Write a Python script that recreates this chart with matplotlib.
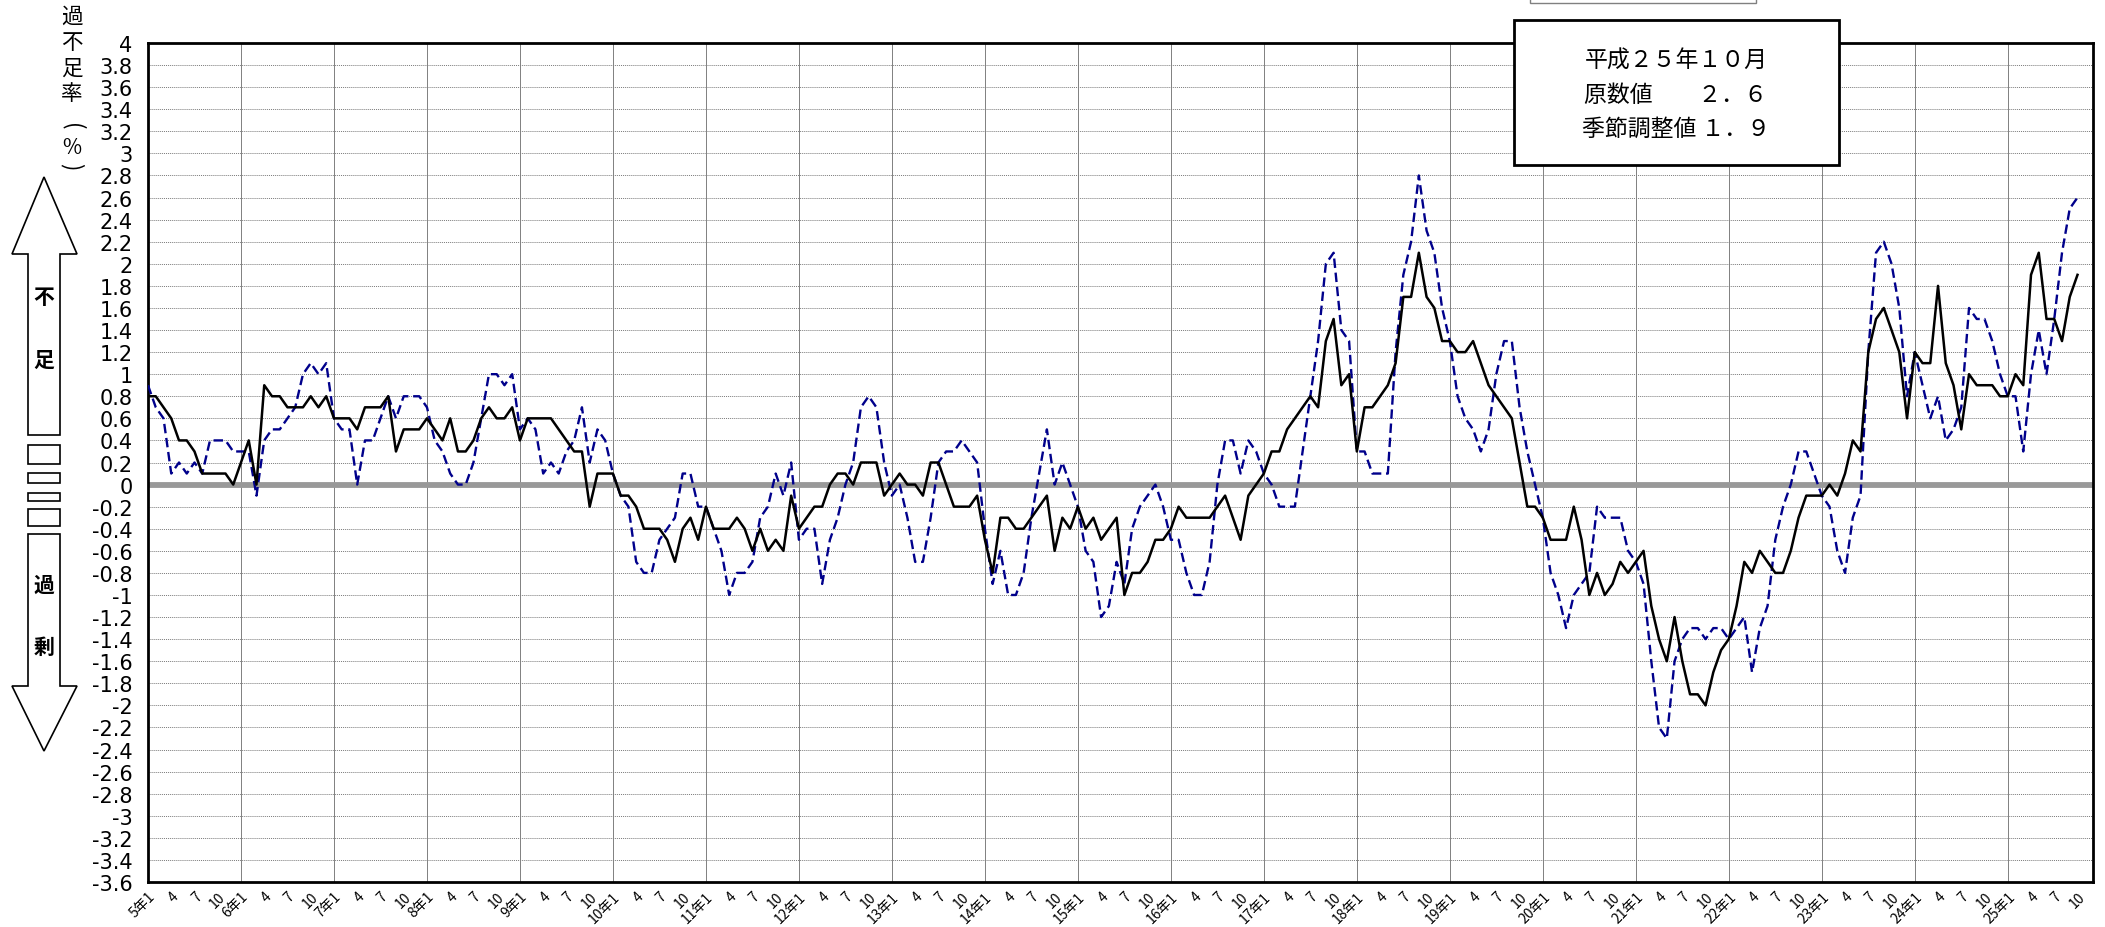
import matplotlib
matplotlib.use('Agg')
import matplotlib.pyplot as plt
import numpy as np
from matplotlib.patches import Polygon, Rectangle

plt.rcParams['font.family'] = ['Noto Sans CJK JP', 'DejaVu Sans']
plt.rcParams['axes.unicode_minus'] = False

# 平成5年1月 ～ 平成25年10月 (月次)
start_year = 5
# 季節調整値 (実線)
sa = [
    0.8, 0.8, 0.7, 0.6, 0.4, 0.4, 0.3, 0.1, 0.1, 0.1, 0.1, 0.0,
    0.2, 0.4, 0.0, 0.9, 0.8, 0.8, 0.7, 0.7, 0.7, 0.8, 0.7, 0.8,
    0.6, 0.6, 0.6, 0.5, 0.7, 0.7, 0.7, 0.8, 0.3, 0.5, 0.5, 0.5,
    0.6, 0.5, 0.4, 0.6, 0.3, 0.3, 0.4, 0.6, 0.7, 0.6, 0.6, 0.7,
    0.4, 0.6, 0.6, 0.6, 0.6, 0.5, 0.4, 0.3, 0.3, -0.2, 0.1, 0.1,
    0.1, -0.1, -0.1, -0.2, -0.4, -0.4, -0.4, -0.5, -0.7, -0.4, -0.3, -0.5,
    -0.2, -0.4, -0.4, -0.4, -0.3, -0.4, -0.6, -0.4, -0.6, -0.5, -0.6, -0.1,
    -0.4, -0.3, -0.2, -0.2, 0.0, 0.1, 0.1, 0.0, 0.2, 0.2, 0.2, -0.1,
    0.0, 0.1, 0.0, 0.0, -0.1, 0.2, 0.2, 0.0, -0.2, -0.2, -0.2, -0.1,
    -0.5, -0.8, -0.3, -0.3, -0.4, -0.4, -0.3, -0.2, -0.1, -0.6, -0.3, -0.4,
    -0.2, -0.4, -0.3, -0.5, -0.4, -0.3, -1.0, -0.8, -0.8, -0.7, -0.5, -0.5,
    -0.4, -0.2, -0.3, -0.3, -0.3, -0.3, -0.2, -0.1, -0.3, -0.5, -0.1, 0.0,
    0.1, 0.3, 0.3, 0.5, 0.6, 0.7, 0.8, 0.7, 1.3, 1.5, 0.9, 1.0,
    0.3, 0.7, 0.7, 0.8, 0.9, 1.1, 1.7, 1.7, 2.1, 1.7, 1.6, 1.3,
    1.3, 1.2, 1.2, 1.3, 1.1, 0.9, 0.8, 0.7, 0.6, 0.2, -0.2, -0.2,
    -0.3, -0.5, -0.5, -0.5, -0.2, -0.5, -1.0, -0.8, -1.0, -0.9, -0.7, -0.8,
    -0.7, -0.6, -1.1, -1.4, -1.6, -1.2, -1.6, -1.9, -1.9, -2.0, -1.7, -1.5,
    -1.4, -1.1, -0.7, -0.8, -0.6, -0.7, -0.8, -0.8, -0.6, -0.3, -0.1, -0.1,
    -0.1, 0.0, -0.1, 0.1, 0.4, 0.3, 1.2, 1.5, 1.6, 1.4, 1.2, 0.6,
    1.2, 1.1, 1.1, 1.8, 1.1, 0.9, 0.5, 1.0, 0.9, 0.9, 0.9, 0.8,
    0.8, 1.0, 0.9, 1.9, 2.1, 1.5, 1.5, 1.3, 1.7, 1.9]
# 原数値 (破線)
nsa = [
    0.9, 0.7, 0.6, 0.1, 0.2, 0.1, 0.2, 0.1, 0.4, 0.4, 0.4, 0.3,
    0.3, 0.3, -0.1, 0.4, 0.5, 0.5, 0.6, 0.7, 1.0, 1.1, 1.0, 1.1,
    0.6, 0.5, 0.5, 0.0, 0.4, 0.4, 0.6, 0.8, 0.6, 0.8, 0.8, 0.8,
    0.7, 0.4, 0.3, 0.1, 0.0, 0.0, 0.2, 0.6, 1.0, 1.0, 0.9, 1.0,
    0.5, 0.6, 0.5, 0.1, 0.2, 0.1, 0.3, 0.4, 0.7, 0.2, 0.5, 0.4,
    0.1, -0.1, -0.2, -0.7, -0.8, -0.8, -0.5, -0.4, -0.3, 0.1, 0.1, -0.2,
    -0.2, -0.4, -0.6, -1.0, -0.8, -0.8, -0.7, -0.3, -0.2, 0.1, -0.1, 0.2,
    -0.5, -0.4, -0.4, -0.9, -0.5, -0.3, 0.0, 0.2, 0.7, 0.8, 0.7, 0.2,
    -0.1, 0.0, -0.3, -0.7, -0.7, -0.3, 0.2, 0.3, 0.3, 0.4, 0.3, 0.2,
    -0.4, -0.9, -0.6, -1.0, -1.0, -0.8, -0.3, 0.1, 0.5, 0.0, 0.2, 0.0,
    -0.2, -0.6, -0.7, -1.2, -1.1, -0.7, -0.9, -0.4, -0.2, -0.1, 0.0, -0.2,
    -0.5, -0.5, -0.8, -1.0, -1.0, -0.7, 0.0, 0.4, 0.4, 0.1, 0.4, 0.3,
    0.1, 0.0, -0.2, -0.2, -0.2, 0.3, 0.8, 1.3, 2.0, 2.1, 1.4, 1.3,
    0.3, 0.3, 0.1, 0.1, 0.1, 1.2, 1.9, 2.2, 2.8, 2.3, 2.1, 1.6,
    1.3, 0.8, 0.6, 0.5, 0.3, 0.5, 1.0, 1.3, 1.3, 0.7, 0.3, 0.0,
    -0.3, -0.8, -1.0, -1.3, -1.0, -0.9, -0.8, -0.2, -0.3, -0.3, -0.3, -0.6,
    -0.7, -0.9, -1.6, -2.2, -2.3, -1.6, -1.4, -1.3, -1.3, -1.4, -1.3, -1.3,
    -1.4, -1.3, -1.2, -1.7, -1.3, -1.1, -0.5, -0.2, 0.0, 0.3, 0.3, 0.1,
    -0.1, -0.2, -0.6, -0.8, -0.3, -0.1, 1.2, 2.1, 2.2, 2.0, 1.6, 0.8,
    1.2, 0.9, 0.6, 0.8, 0.4, 0.5, 0.7, 1.6, 1.5, 1.5, 1.3, 1.0,
    0.8, 0.8, 0.3, 1.0, 1.4, 1.0, 1.5, 2.1, 2.5, 2.6]

box_lines = ['平成２５年１０月', '原数値　　２．６', '季節調整値 １．９']

W, H = 2105, 928
fig = plt.figure(figsize=(W / 100, H / 100), dpi=100)
ax = fig.add_axes([148 / W, 1 - 883 / H, (2093 - 148) / W, (883 - 44) / H])

x = np.arange(len(sa))
yticks = np.round(np.arange(-3.6, 4.001, 0.2), 1)

for v in yticks:
    ax.axhline(v, color='#7a7a7a', lw=0.7, ls=(0, (1, 1)), zorder=1)
for i in x[x % 12 == 0]:
    ax.axvline(i, color='#808080', lw=0.7, zorder=1)
ax.axhline(0, color='#999999', lw=4.2, zorder=2)

ax.plot(x, nsa, color='#00008b', lw=1.7, ls=(0, (4, 2)), zorder=4)
ax.plot(x, sa, color='black', lw=1.8, zorder=5)

ax.set_xlim(0, 251)
ax.set_ylim(-3.6, 4)

ax.set_yticks(yticks)
ax.set_yticklabels(['0' if v == 0 else f'{v:g}' for v in yticks],
                   fontfamily='DejaVu Sans', fontsize=15)
ticks = x[x % 3 == 0]
labels = [f'{start_year + i // 12}年1' if i % 12 == 0 else str(i % 12 + 1) for i in ticks]
ax.set_xticks(ticks)
ax.set_xticklabels(labels, rotation=45, ha='right', va='top',
                   rotation_mode='anchor', fontsize=10)
ax.tick_params(axis='y', length=0, pad=11)
ax.tick_params(axis='x', length=0, pad=5)
for s in ax.spines.values():
    s.set_linewidth(2)
    s.set_color('black')

# 左側の注記と矢印 (ピクセル座標)
ov = fig.add_axes([0, 0, 1, 1], zorder=6)
ov.set_xlim(0, W)
ov.set_ylim(H, 0)
ov.axis('off')
ov.patch.set_alpha(0)

up = [(44, 178), (77, 255), (60, 255), (60, 436), (28, 436), (28, 255), (12, 255)]
down = [(28, 535), (60, 535), (60, 687), (77, 687), (44, 752), (12, 687), (28, 687)]
ov.add_patch(Polygon(up, closed=True, fc='white', ec='black', lw=1.2))
ov.add_patch(Polygon(down, closed=True, fc='white', ec='black', lw=1.2))
for y0, h in [(446, 19), (474, 10), (494, 8), (510, 17)]:
    ov.add_patch(Rectangle((28, y0), 32, h, fc='white', ec='black', lw=1.2))
for ch, yy in [('不', 298), ('足', 360), ('過', 585), ('剰', 647)]:
    ov.text(44, yy, ch, ha='center', va='center', fontsize=15, fontweight='bold')

ov.text(72, 6, '過\n不\n足\n率', ha='center', va='top', fontsize=15.5, linespacing=1.22)
ov.text(72, 127, '(', ha='center', va='center', fontsize=16, rotation=-90)
ov.text(72, 148, '%', ha='center', va='center', fontsize=15)
ov.text(72, 167, ')', ha='center', va='center', fontsize=16, rotation=-90)

# 最新値の枠
ov.add_patch(Rectangle((1530, -6), 226, 10, fc='white', ec='#808080', lw=1))
ov.add_patch(Rectangle((1514, 21), 325, 145, fc='white', ec='black', lw=2))
for line, yy in zip(box_lines, [61, 95, 129]):
    ov.text(1676, yy, line, ha='center', va='center', fontsize=16.5)

fig.savefig('out.png', dpi=100)
